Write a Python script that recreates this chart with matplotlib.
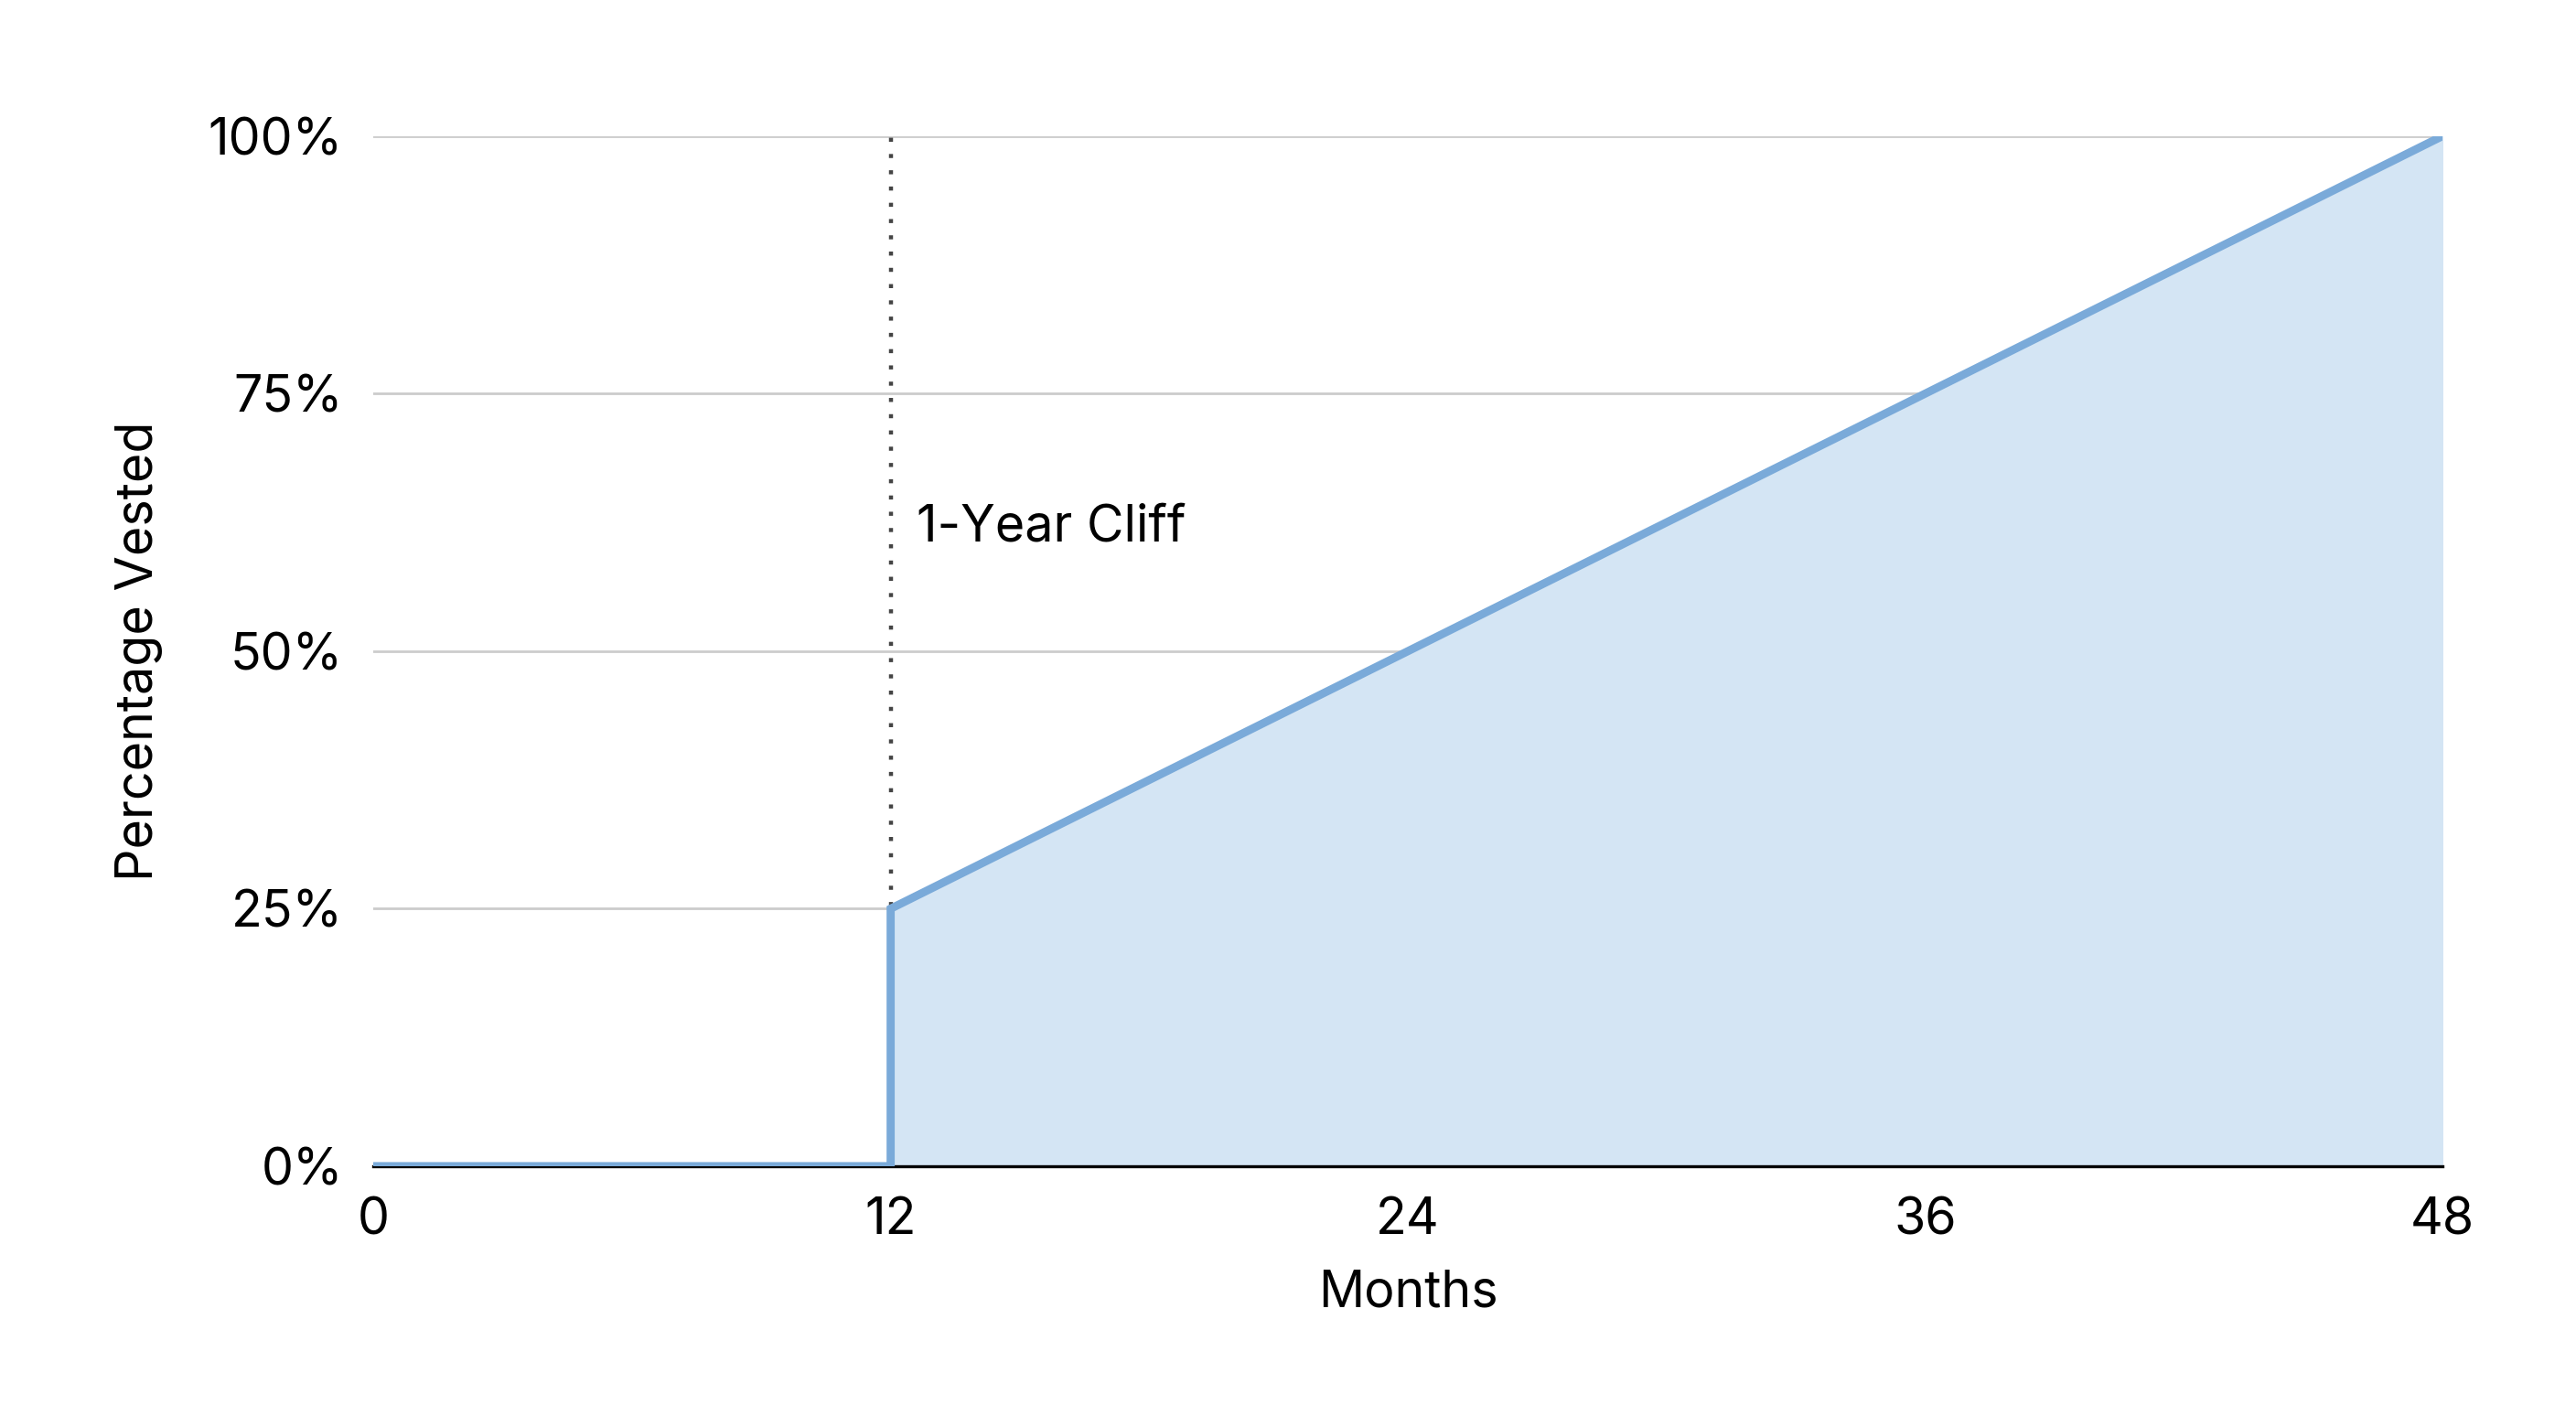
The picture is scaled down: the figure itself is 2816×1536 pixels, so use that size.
import matplotlib.pyplot as plt

plt.rcParams['font.family'] = ['Inter', 'DejaVu Sans']

# vesting schedule
months = [0, 12, 12, 48]
vested = [0, 0, 25, 100]
cliff_month = 12
x_ticks = [0, 12, 24, 36, 48]
y_ticks = [0, 25, 50, 75, 100]
y_labels = ['0%', '25%', '50%', '75%', '100%']

fig = plt.figure(figsize=(14.08, 7.68), dpi=200)
ax = fig.add_axes([0.145, 0.170, 0.803, 0.733])

ax.fill_between(months[2:], vested[2:], 0, color='#d4e5f4', zorder=1)
ax.plot(months, vested, color='#7aaad9', lw=3.2, zorder=4, solid_joinstyle='miter')
ax.vlines(cliff_month, 0, 100, color='#444444', lw=1.6, linestyles=(0, (1, 3)), zorder=3)
ax.text(cliff_month + 0.6, 62, '1-Year Cliff', fontsize=20, va='center', ha='left')

ax.set_xlim(0, 48)
ax.set_ylim(0, 100)
ax.set_xticks(x_ticks)
ax.set_yticks(y_ticks)
ax.set_yticklabels(y_labels)
ax.tick_params(length=0, labelsize=20, pad=12)
ax.grid(axis='y', color='#cccccc', lw=1.0, zorder=0)
ax.set_axisbelow(True)
for s in ['top', 'right', 'left']:
    ax.spines[s].set_visible(False)
ax.spines['bottom'].set_color('black')
ax.spines['bottom'].set_linewidth(1.2)
ax.spines['bottom'].set_zorder(2)
ax.set_xlabel('Months', fontsize=20, labelpad=10)
ax.set_ylabel('Percentage Vested', fontsize=20, labelpad=18)

fig.savefig('out.png', dpi=200)
